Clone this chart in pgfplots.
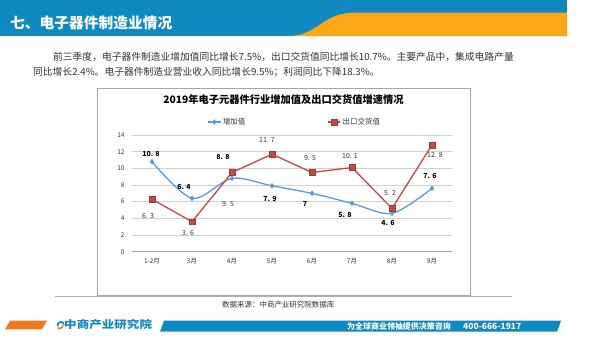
\documentclass[border=0pt]{standalone}
\usepackage{fontspec}
\setmainfont{Noto Sans CJK SC}
\usepackage{pgfplots}
\pgfplotsset{compat=1.18}
\usepackage{pgfplotstable}
\definecolor{hdrblue}{HTML}{0F89C0}
\definecolor{hdrorange}{HTML}{FBA614}
\definecolor{serblue}{HTML}{5B9BD5}
\definecolor{serred}{HTML}{BE4B48}
\definecolor{ftorange}{HTML}{EE7A1F}
\definecolor{txt}{HTML}{333333}
\definecolor{frame}{HTML}{A6A6A6}
\definecolor{uline}{HTML}{9DB3C8}

\pgfplotstableread[col sep=comma]{
x,y,lab,dx,dy
0,10.8,10. 8,-1,8
1,6.4,6. 4,-8,11
2,8.8,8. 8,-9,21
3,7.9,7. 9,-2,-13
4,7,7,-7,-11
5,5.8,5. 8,-7,-12
6,4.6,4. 6,-4,-10
7,7.6,7. 6,-2,12
}\blueT

\pgfplotstableread[col sep=comma]{
x,y,lab,dx,dy
0,6.3,6. 3,-4,-17
1,3.6,3. 6,-4,-11
2,9.5,9. 5,-4,-32
3,11.7,11. 7,-5,14
4,9.5,9. 5,-2,14
5,10.1,10. 1,-2,11
6,5.2,5. 2,-2,15
7,12.8,12. 8,3,-10
}\redT

\begin{document}
\begin{tikzpicture}[x=1bp,y=1bp]
\useasboundingbox (0,0) rectangle (600,338);
\fill[white] (0,0) rectangle (600,338);
% header
\fill[hdrblue] (0,302) rectangle (567,338);
\fill[hdrorange] (288,302) .. controls (318,302) and (322,325.3) .. (354,325.3) -- (567,325.3) -- (567,302) -- cycle;
\node[anchor=west, text=white, font=\bfseries\fontsize{14.8}{16}\selectfont, inner sep=0] at (10,315) {七、电子器件制造业情况};
% body text
\node[anchor=west, text=txt, font=\fontsize{9.8}{11}\selectfont, inner sep=0] at (53,281) {前三季度，电子器件制造业增加值同比增长7.5\%，出口交货值同比增长10.7\%。主要产品中，集成电路产量};
\node[anchor=west, text=txt, font=\fontsize{9.8}{11}\selectfont, inner sep=0] at (33,266) {同比增长2.4\%。电子器件制造业营业收入同比增长9.5\%；利润同比下降18.3\%。};
% chart frame
\draw[frame, line width=0.6pt] (97,43) rectangle (470,250);
\draw[uline, line width=0.8pt] (55,42) -- (512,42);
\node[font=\bfseries\fontsize{10.3}{12}\selectfont, text=black, inner sep=0] at (283.5,238) {2019年电子元器件行业增加值及出口交货值增速情况};
\node[anchor=west, font=\fontsize{7.5}{9}\selectfont, text=txt, inner sep=0] at (222,33) {数据来源：中商产业研究院数据库};

\begin{axis}[
  at={(132bp,86.3bp)}, anchor=south west,
  scale only axis, width=320bp, height=116.7bp,
  xmin=-0.5, xmax=7.5, ymin=0, ymax=14,
  xtick={0,...,7},
  xticklabels={1-2月,3月,4月,5月,6月,7月,8月,9月},
  ytick={0,2,...,14},
  ymajorgrids, grid style={draw=black!18, line width=0.6pt},
  axis line style={draw=none},
  major tick style={draw=none},
  tick label style={font=\fontsize{6.5}{7}\selectfont, text=txt},
  xticklabel style={yshift=-3bp},
  yticklabel style={xshift=-4bp},
  /pgf/number format/assume math mode=true,
  clip=false,
  legend style={at={(0.509,1.111)}, anchor=center, draw=none, fill=none,
    legend columns=2, font=\fontsize{7.5}{9}\selectfont, text=txt,
    /tikz/every even column/.append style={column sep=80bp}},
  legend image code/.code={\draw[mark repeat=2,mark phase=2,#1] plot coordinates {(0bp,0bp) (6bp,0bp) (12bp,0bp)};},
]
\draw[black!35, line width=0.7pt] (axis cs:-0.5,0) -- (axis cs:7.5,0);
\addplot[serblue, line width=1.3pt, smooth, mark=diamond*, mark size=1.8pt,
  mark options={fill=serblue, solid},
  nodes near coords, point meta=explicit symbolic,
  visualization depends on={\thisrow{dx}\as\dx},
  visualization depends on={\thisrow{dy}\as\dy},
  every node near coord/.append style={anchor=center, xshift=\dx bp, yshift=\dy bp,
    font=\bfseries\fontsize{7}{8}\selectfont, text=black, inner sep=0}]
  table[x=x, y=y, meta=lab] {\blueT};
\addlegendentry{增加值}
\addplot[serred, line width=1.3pt, mark=square*, mark size=2.8pt,
  mark options={fill=serred, draw=serred!80!black, line width=0.5pt, solid},
  nodes near coords, point meta=explicit symbolic,
  visualization depends on={\thisrow{dx}\as\dx},
  visualization depends on={\thisrow{dy}\as\dy},
  every node near coord/.append style={anchor=center, xshift=\dx bp, yshift=\dy bp,
    font=\fontsize{7}{8}\selectfont, text=txt, inner sep=0}]
  table[x=x, y=y, meta=lab] {\redT};
\addlegendentry{出口交货值}
\end{axis}

% footer
\fill[ftorange] (5,8.7) -- (42,8.7) -- (47,17.3) -- (10,17.3) -- cycle;
\draw[ftorange, line width=1.6pt] (57.5,10.2) arc (230:360:3.2);
\draw[hdrblue, line width=1.6pt] (60.8,13) ++(0:3.2) arc (0:200:3.2);
\node[anchor=west, text=hdrblue, font=\bfseries\fontsize{10.5}{12}\selectfont, inner sep=0] at (64,13) {\scalebox{1.2}[1]{中商产业研究院}};
\fill[hdrblue] (160,6.3) -- (557,6.3) -- (561,17.3) -- (164,17.3) -- cycle;
\node[anchor=west, text=white, font=\bfseries\fontsize{8}{9}\selectfont, inner sep=0] at (347,12) {为全球商业领袖提供决策咨询};
\node[anchor=west, text=white, font=\bfseries\fontsize{8.5}{9}\selectfont, inner sep=0] at (463,12) {400-666-1917};
\end{tikzpicture}
\end{document}
